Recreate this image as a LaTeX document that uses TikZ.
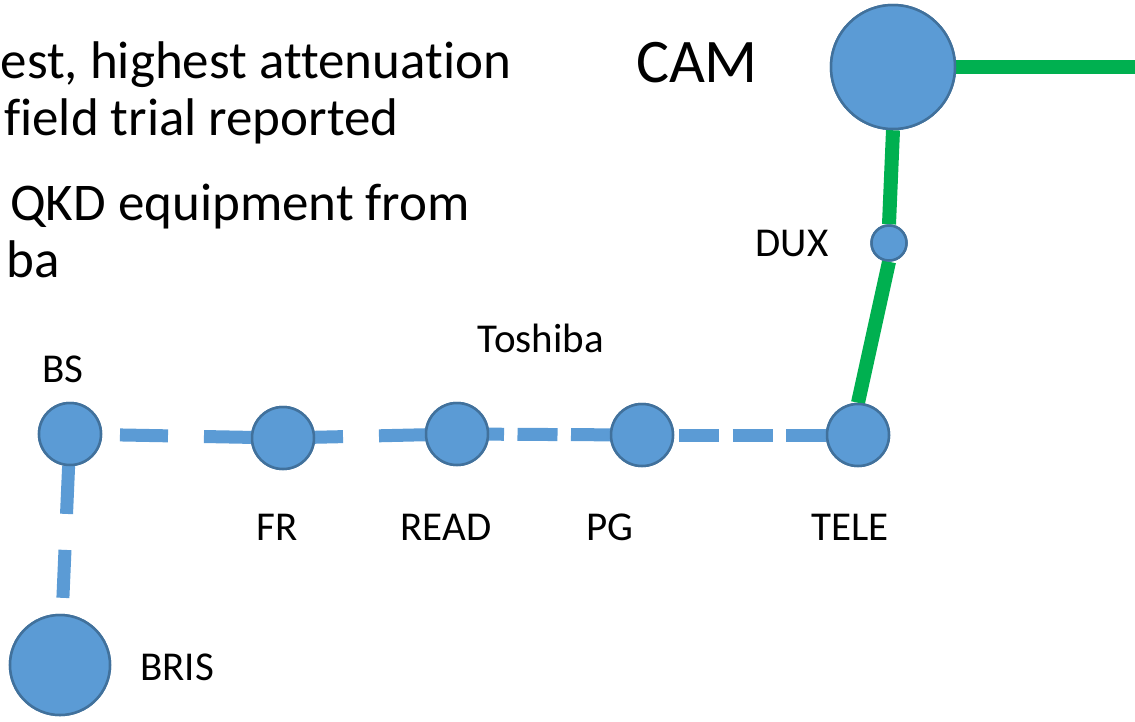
\documentclass[tikz,border=0pt]{standalone}
\usepackage{fontspec}
\setmainfont{Carlito}[Ligatures={NoCommon}]
\definecolor{nodeblue}{HTML}{5B9BD5}
\definecolor{nodeedge}{HTML}{41719C}
\definecolor{linkgreen}{HTML}{00B050}
\begin{document}
\begin{tikzpicture}[x=1pt,y=-1pt,
  site/.style={circle,fill=nodeblue,draw=nodeedge,line width=2.5pt,inner sep=0pt,minimum size=#1},
  bluelink/.style={draw=nodeblue,line width=13pt},
  greenlink/.style={draw=linkgreen,line width=14pt},
  bigtext/.style={anchor=base west,inner sep=0pt,font=\fontsize{53}{58}\selectfont},
  lbl/.style={anchor=base,inner sep=0pt,font=\fontsize{41}{48}\selectfont},
]
\useasboundingbox (0,0) rectangle (1135,721);
% text block
\node[bigtext] (t1) at (0.5,78) {est, highest attenuation};
\node[bigtext] (t2) at (4,135) {field trial reported};
\node[bigtext] (t3) at (10,220) {QKD equipment from};
\node[bigtext] (t4) at (6,277) {ba};
\node[anchor=base,inner sep=0pt,font=\fontsize{62}{70}\selectfont] (camlbl) at (697,82) {CAM};
% node positions
\coordinate (edge) at (1135,67);
\node[site=124pt] (cam) at (893,67) {};
\node[site=35pt] (dux) at (889,243) {};
\node[site=62pt] (tele) at (858,435) {};
\node[site=62pt] (pg) at (642,435) {};
\node[site=62pt] (read) at (457,434) {};
\node[site=62pt] (fr) at (283,438) {};
\node[site=62pt] (bs) at (70,434) {};
\node[site=100pt] (bris) at (60,665) {};
% links
\path[greenlink] (cam.east) -- (edge);
\path[greenlink] (cam.south) -- (dux.north);
\path[greenlink] (dux.south) -- (tele.north);
\path[bluelink,dash pattern=on 48pt off 36pt,dash phase=34pt] (bs.center) -- (fr.center);
\path[bluelink,dash pattern=on 60pt off 36pt,dash phase=0pt] (fr.center) -- (read.center);
\path[bluelink,dash pattern=on 40pt off 13.5pt,dash phase=46.5pt] (read.center) -- (pg.center);
\path[bluelink,dash pattern=on 40pt off 13.5pt,dash phase=16.5pt] (pg.center) -- (tele.center);
\path[bluelink,dash pattern=on 48pt off 36pt,dash phase=52pt] (bs.center) -- (bris.center);
% circles drawn again on top of the links
\node[site=124pt] at (cam) {};
\node[site=35pt] at (dux) {};
\node[site=62pt] at (tele) {};
\node[site=62pt] at (pg) {};
\node[site=62pt] at (read) {};
\node[site=62pt] at (fr) {};
\node[site=62pt] at (bs) {};
\node[site=100pt] at (bris) {};
% labels
\node[lbl] (duxlbl) at (792,256) {DUX};
\node[lbl] (toshlbl) at (541,352) {Toshiba};
\node[lbl] (bslbl) at (63,382) {BS};
\node[lbl] (frlbl) at (277,540) {FR};
\node[lbl] (readlbl) at (446,540) {READ};
\node[lbl] (pglbl) at (610,540) {PG};
\node[lbl] (telelbl) at (850,540) {TELE};
\node[anchor=base west,inner sep=0pt,font=\fontsize{41}{48}\selectfont] (brislbl) at (140,680) {BRIS};
\end{tikzpicture}
\end{document}
